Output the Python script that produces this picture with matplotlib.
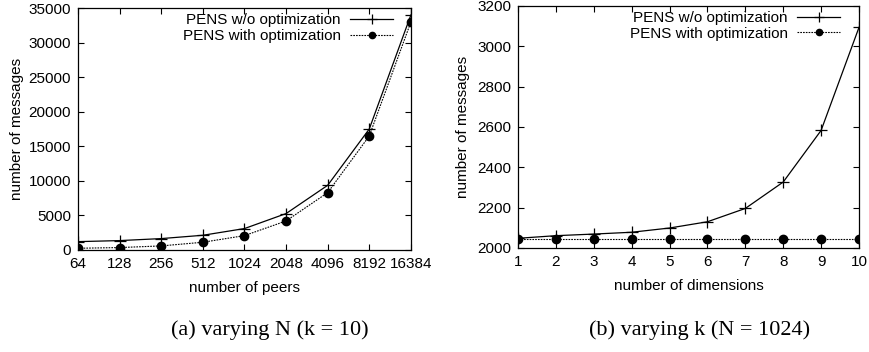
import numpy as np
import matplotlib.pyplot as plt

# (a) varying N
peers = [64, 128, 256, 512, 1024, 2048, 4096, 8192, 16384]
msgs_wo_a = [1200, 1350, 1640, 2120, 3090, 5260, 9350, 17500, 34000]
msgs_with_a = [240, 340, 580, 1110, 2070, 4190, 8290, 16490, 32980]

# (b) varying k
dims = [1, 2, 3, 4, 5, 6, 7, 8, 9, 10]
msgs_wo_b = [2048, 2061, 2069, 2078, 2099, 2130, 2196, 2327, 2583, 3094]
msgs_with_b = [2047, 2047, 2047, 2047, 2047, 2047, 2047, 2047, 2047, 2047]

plt.rcParams['font.family'] = ['Liberation Sans', 'DejaVu Sans']
plt.rcParams['font.size'] = 11

fig = plt.figure(figsize=(8.69, 3.52), dpi=100)
ax1 = fig.add_axes([0.0898, 0.290, 0.383, 0.687])
ax2 = fig.add_axes([0.596, 0.2955, 0.3925, 0.6875])

dot = (0, (1.5, 1))


def style(ax):
    ax.tick_params(direction='in', top=True, right=True, length=4, width=0.8,
                   labelsize=11, pad=5)
    for s in ax.spines.values():
        s.set_linewidth(0.9)


def add_legend(ax, x):
    ax.legend(loc='upper right', bbox_to_anchor=(x, 0.978), frameon=False,
              markerfirst=False, fontsize=11, handlelength=2.8,
              borderaxespad=0, borderpad=0, labelspacing=0.1,
              handletextpad=0.6, markerscale=0.75)


xa = np.log2(peers)
ax1.plot(xa, msgs_wo_a, color='black', lw=0.9, marker='+', ms=9, mew=0.9,
         label='PENS w/o optimization')
ax1.plot(xa, msgs_with_a, color='black', lw=0.8, ls=dot, marker='o', ms=6,
         label='PENS with optimization')
ax1.set_xlim(xa[0], xa[-1])
ax1.set_xticks(xa)
ax1.set_xticklabels([str(p) for p in peers])
ax1.set_ylim(0, 35000)
ax1.set_yticks(range(0, 35001, 5000))
ax1.set_xlabel('number of peers', labelpad=7)
ax1.set_ylabel('number of messages', labelpad=3)
style(ax1)
add_legend(ax1, 0.946)

ax2.plot(dims, msgs_wo_b, color='black', lw=0.9, marker='+', ms=9, mew=0.9,
         label='PENS w/o optimization')
ax2.plot(dims, msgs_with_b, color='black', lw=0.8, ls=dot, marker='o', ms=6,
         label='PENS with optimization')
ax2.set_xlim(1, 10)
ax2.set_xticks(dims)
ax2.set_ylim(2000, 3200)
ax2.set_yticks(range(2000, 3201, 200))
ax2.set_xlabel('number of dimensions', labelpad=7)
ax2.set_ylabel('number of messages', labelpad=5)
style(ax2)
add_legend(ax2, 0.944)

fig.text(0.31, 0.063, '(a) varying N (k = 10)', ha='center', va='center',
         family=['Liberation Serif', 'DejaVu Serif'], fontsize=16)
fig.text(0.805, 0.063, '(b) varying k (N = 1024)', ha='center', va='center',
         family=['Liberation Serif', 'DejaVu Serif'], fontsize=16)

fig.savefig('out.png', dpi=100)
